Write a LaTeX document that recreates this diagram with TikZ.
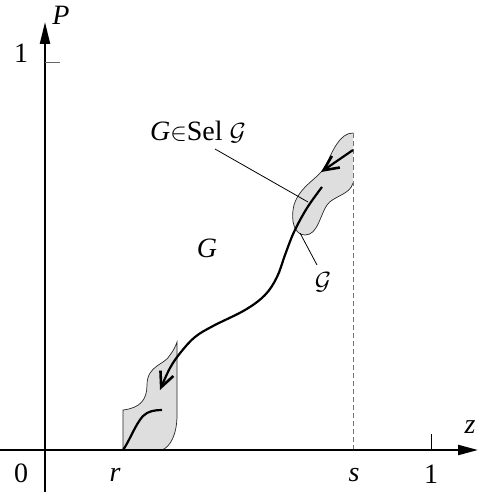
\documentclass[tikz,border=0pt]{standalone}
\usepackage{fontspec}
\setmainfont{Liberation Serif}
\usetikzlibrary{arrows.meta}
\begin{document}
\begin{tikzpicture}[x=1pt,y=-1pt,
  axis/.style={line width=2.2pt},
  thinline/.style={line width=0.8pt},
  leaffill/.style={fill=black!13},
  leafedge/.style={draw=black!85, line width=0.7pt},
  curve/.style={line width=2.2pt},
  barb/.style={-{Straight Barb[length=15pt,width=14pt,line width=2.6pt]}},
  lbl/.style={font=\fontsize{28}{30}\selectfont, inner sep=0pt}]
\useasboundingbox (0,0) rectangle (478,492);
% top leaf
\fill[leaffill] (353,133) .. controls (340,133) and (333,150) .. (326,165)
  .. controls (320,178) and (300,185) .. (294,205)
  .. controls (290,222) and (295,235) .. (305,235)
  .. controls (318,235) and (320,215) .. (327,205)
  .. controls (333,196) and (350,195) .. (353,183) -- cycle;
\draw[leafedge] (353,133) .. controls (340,133) and (333,150) .. (326,165)
  .. controls (320,178) and (300,185) .. (294,205)
  .. controls (290,222) and (295,235) .. (305,235)
  .. controls (318,235) and (320,215) .. (327,205)
  .. controls (333,196) and (350,195) .. (353,183);
% bottom leaf
\fill[leaffill] (123,450) -- (123,410) .. controls (140,408) and (147,400) .. (147,385)
  .. controls (147,365) and (165,365) .. (170,355)
  .. controls (174,350) and (176,345) .. (177,342)
  -- (177,415) .. controls (177,435) and (170,447) .. (162,450) -- cycle;
\draw[leafedge] (123,450) -- (123,410) .. controls (140,408) and (147,400) .. (147,385)
  .. controls (147,365) and (165,365) .. (170,355)
  .. controls (174,350) and (176,345) .. (177,342)
  -- (177,415) .. controls (177,435) and (170,447) .. (162,450);
% dashed line
\coordinate (sbase) at (353,450);
\coordinate (stop) at (353,133);
\draw[black!55, line width=1pt, dash pattern=on 5pt off 3pt] (sbase) -- (stop);
% axes
\coordinate (yb) at (45,492); \coordinate (yt) at (45,22);
\coordinate (xl) at (0,450); \coordinate (xr) at (478,450);
\draw[axis,-{Triangle[length=22pt,width=10pt]}] (yb) -- (yt);
\draw[axis,-{Triangle[length=20pt,width=10pt]}] (xl) -- (xr);
% ticks
\coordinate (t1a) at (45,63); \coordinate (t1b) at (60,63);
\draw[black!60, line width=1pt] (t1a) -- (t1b);
\coordinate (t2a) at (431,434); \coordinate (t2b) at (431,450);
\draw[line width=0.8pt] (t2a) -- (t2b);
% inner curve bottom leaf
\draw[curve] (123,450) .. controls (130,440) and (135,425) .. (143,416)
  .. controls (148,411) and (155,410) .. (162,410);
% main curve
\draw[curve,barb] plot[smooth, tension=0.6] coordinates
  {(322,187) (307,208) (294,232) (285,255) (277,277) (265,295) (245,310) (213,326)
   (195,337) (181,352) (170,368) (160,390)};
% top arrow
\coordinate (aa) at (353,150); \coordinate (ab) at (321,172);
\draw[curve,barb] (aa) -- (ab);
% labels
\node[lbl] (P) at (61,15) {\textit{P}};
\node[lbl] (one) at (21,53) {1};
\node[lbl] (zero) at (21,473) {0};
\node[lbl] (r) at (115,475) {\textit{r}};
\node[lbl] (s) at (354,475) {\textit{s}};
\node[lbl] (oneb) at (431,474) {1};
\node[lbl] (z) at (470,427) {\textit{z}};
\node[lbl] (G) at (207,248) {\textit{G}};
\node[lbl] (sel) at (198,132) {\textit{G}$\in$Sel $\mathcal{G}$};
\node[lbl] (cal) at (323,282) {$\mathcal{G}$};
% leader lines
\coordinate (l1a) at (215,149); \coordinate (l1b) at (308,202);
\draw[thinline] (l1a) -- (l1b);
\coordinate (l2a) at (317,265); \coordinate (l2b) at (300,233);
\draw[thinline] (l2a) -- (l2b);
\end{tikzpicture}
\end{document}
